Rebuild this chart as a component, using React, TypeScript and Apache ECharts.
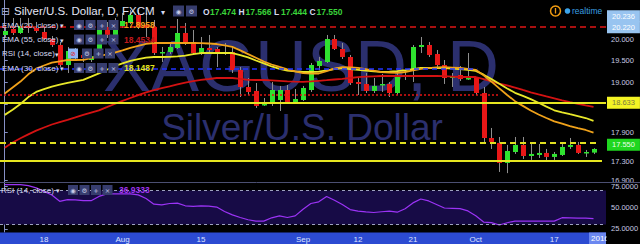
import React, { useEffect, useRef } from 'react';
import * as echarts from 'echarts';

// ---------------- data ----------------
const tickIdx = [5, 15, 25, 38, 45, 52, 60, 70];
const tickText = ['18', 'Aug', '15', 'Sep', '12', '21', 'Oct', '17'];
const priceTicks = [20.0, 19.5, 19.0, 18.5, 17.9, 17.3, 16.9];
const rsiTicks = [75, 50, 25];
const rsiBands = [70, 30];

const opens = [20.101, 20.245, 20.149, 20.317, 20.269, 20.172, 20.005, 19.863, 19.395, 19.721,
  19.628, 19.511, 19.628, 20.293, 20.101, 20.317, 20.390, 20.585, 20.341, 20.293,
  19.686, 19.698, 19.792, 20.149, 19.934, 19.674, 19.792, 19.769, 19.674, 19.698,
  19.280, 18.894, 18.805, 18.494, 18.516, 18.604, 18.827, 18.560, 18.604, 18.827,
  19.372, 19.465, 20.005, 19.769, 19.581, 19.007, 18.962, 18.805, 18.939, 18.962,
  18.759, 19.120, 19.280, 19.816, 19.863, 19.651, 19.395, 19.097, 19.166, 19.075,
  19.097, 18.759, 17.781, 17.676, 17.260, 17.487, 17.634, 17.404, 17.425, 17.467,
  17.384, 17.425, 17.592, 17.634, 17.477, 17.474];
const closes = [20.196, 20.149, 20.317, 20.269, 20.196, 20.005, 19.863, 19.395, 19.721, 19.628,
  19.558, 19.604, 20.293, 20.101, 20.293, 20.438, 20.585, 20.293, 20.269, 19.674,
  19.698, 19.816, 20.149, 19.910, 19.674, 19.792, 19.745, 19.674, 19.698, 19.280,
  18.894, 18.782, 18.472, 18.516, 18.827, 18.827, 18.560, 18.626, 18.872, 19.395,
  19.488, 20.005, 19.769, 19.581, 18.984, 18.962, 18.805, 18.917, 18.962, 18.759,
  19.120, 19.166, 19.816, 19.863, 19.628, 19.395, 19.097, 19.143, 19.075, 19.097,
  18.759, 17.781, 17.697, 17.260, 17.508, 17.634, 17.404, 17.446, 17.467, 17.384,
  17.446, 17.592, 17.634, 17.467, 17.487, 17.550];
const highs = [20.341, 20.512, 20.512, 20.512, 20.414, 20.269, 20.077, 19.934, 19.816, 19.792,
  19.745, 19.745, 20.341, 20.414, 20.512, 20.634, 20.708, 20.708, 20.634, 20.463,
  19.816, 19.910, 20.487, 20.390, 20.221, 20.053, 20.101, 19.816, 19.910, 19.816,
  19.349, 19.097, 18.984, 18.648, 19.007, 18.917, 18.939, 18.849, 18.917, 19.442,
  19.581, 20.101, 20.101, 19.910, 19.628, 19.120, 19.211, 19.097, 19.189, 19.007,
  19.234, 19.280, 19.863, 20.053, 19.934, 19.745, 19.511, 19.211, 19.372, 19.674,
  19.120, 18.894, 17.994, 17.802, 17.634, 17.802, 17.802, 17.676, 17.655, 17.550,
  17.487, 17.655, 17.781, 17.697, 17.529, 17.566];
const lows = [20.053, 20.101, 20.125, 20.149, 20.149, 19.981, 19.816, 19.349, 19.211, 19.511,
  19.465, 19.465, 19.581, 20.029, 20.029, 20.269, 20.366, 20.245, 20.053, 19.628,
  19.465, 19.651, 19.769, 19.863, 19.628, 19.628, 19.674, 19.349, 19.628, 19.211,
  18.670, 18.715, 18.428, 18.472, 18.472, 18.362, 18.516, 18.516, 18.582, 18.782,
  19.280, 19.442, 19.745, 19.534, 18.939, 18.715, 18.759, 18.759, 18.782, 18.670,
  18.715, 19.052, 19.007, 19.674, 19.581, 19.349, 18.962, 18.894, 19.029, 19.052,
  18.715, 17.697, 17.550, 17.076, 17.052, 17.446, 17.343, 17.322, 17.363, 17.281,
  17.322, 17.404, 17.550, 17.446, 17.384, 17.444];

const ema20 = [18.750, 18.883, 19.016, 19.182, 19.310, 19.384, 19.449, 19.481, 19.511, 19.511,
  19.513, 19.556, 19.599, 19.642, 19.684, 19.738, 19.797, 19.844, 19.888, 19.910,
  19.910, 19.910, 19.910, 19.910, 19.910, 19.908, 19.898, 19.886, 19.853, 19.818,
  19.735, 19.649, 19.563, 19.477, 19.407, 19.351, 19.296, 19.246, 19.207, 19.198,
  19.200, 19.255, 19.310, 19.347, 19.338, 19.328, 19.298, 19.264, 19.232, 19.223,
  19.213, 19.234, 19.271, 19.305, 19.324, 19.340, 19.344, 19.335, 19.326, 19.305,
  19.285, 19.157, 19.014, 18.863, 18.715, 18.578, 18.474, 18.371, 18.286, 18.209,
  18.136, 18.087, 18.034, 17.992, 17.951, 17.8958];
const ema30 = [18.277, 18.388, 18.516, 18.668, 18.784, 18.847, 18.903, 18.946, 18.986, 19.021,
  19.054, 19.127, 19.202, 19.285, 19.370, 19.435, 19.493, 19.532, 19.565, 19.581,
  19.581, 19.585, 19.597, 19.614, 19.646, 19.674, 19.674, 19.674, 19.674, 19.674,
  19.626, 19.572, 19.500, 19.433, 19.361, 19.305, 19.268, 19.248, 19.234, 19.234,
  19.241, 19.273, 19.303, 19.321, 19.303, 19.285, 19.266, 19.248, 19.236, 19.245,
  19.255, 19.275, 19.301, 19.326, 19.326, 19.326, 19.321, 19.312, 19.303, 19.282,
  19.259, 19.173, 19.072, 18.966, 18.860, 18.764, 18.695, 18.624, 18.542, 18.457,
  18.377, 18.334, 18.292, 18.251, 18.209, 18.1487];
const ema55 = [17.575, 17.684, 17.775, 17.858, 17.936, 18.004, 18.069, 18.121, 18.170, 18.222,
  18.277, 18.327, 18.377, 18.446, 18.516, 18.584, 18.648, 18.710, 18.773, 18.825,
  18.868, 18.908, 18.953, 18.993, 19.025, 19.054, 19.075, 19.097, 19.097, 19.097,
  19.077, 19.056, 19.052, 19.052, 19.045, 19.034, 19.022, 19.013, 19.011, 19.020,
  19.034, 19.047, 19.063, 19.079, 19.097, 19.115, 19.127, 19.136, 19.143, 19.143,
  19.143, 19.143, 19.143, 19.143, 19.143, 19.143, 19.138, 19.129, 19.120, 19.120,
  19.120, 19.072, 19.018, 18.971, 18.928, 18.881, 18.827, 18.775, 18.728, 18.683,
  18.641, 18.597, 18.556, 18.518, 18.485, 18.4534];
const rsi14 = [77, 77, 77, 75.8, 73.1, 69.0, 64.6, 57.3, 59.3, 59.0,
  58, 58, 63, 66, 66, 66, 66, 64.8, 60.5, 53.9,
  53, 54.7, 55.1, 52.0, 51.3, 51.8, 51.6, 50.5, 45.3, 41.3,
  38.3, 35.6, 34, 34, 37.9, 40.2, 38.2, 40.2, 48, 54.7,
  56.7, 63, 58.5, 53.5, 47.6, 45.8, 44.8, 44.1, 45.0, 45.8,
  44.5, 48.5, 55.4, 60, 57.7, 53.6, 49.4, 49, 48.6, 46.0,
  40.3, 32.9, 32.2, 29.4, 32.1, 34, 34, 34, 34, 34,
  34, 38, 37.8, 37.6, 37.6, 36.9333];

// drawn horizontal levels (price, last bar index reached)
const resistanceLevel = 20.22;
const recentHighLevel = 20.236;
const trendLevel = 19.3;
const trendEndIdx = 60.2;
const dottedLevel = 18.72;
const dottedEndIdx = 63.1;
const supportLevel1 = 18.633;
const dashedSupport = 17.68;
const dashedEndIdx = 75.83;
const supportLevel2 = 17.3;
const support2EndIdx = 76.08;

// ---------------- chart ----------------
const FONT = 'Liberation Sans';
const SYM = 'DejaVu Sans';
const L = Math.log;
const X_MIN = -0.605;
const X_MAX = 76.592;
const P_MIN = 16.873;
const P_MAX = 20.956;
const UP = '#2fe22f';
const DOWN = '#e81717';
const AXIS_C = '#8690c6';
const LABEL_C = '#c6cae0';
const HIDDEN = 'rgba(0,0,0,0)';

function txt(x: number, y: number, text: string, fill: string, size: number, opts: any = {}) {
  return {
    type: 'text', x, y, z: opts.z ?? 20, silent: true,
    style: {
      text, fill, fontSize: size, fontFamily: opts.family || FONT,
      fontWeight: opts.weight || 'normal', align: opts.align || 'left', verticalAlign: 'middle',
    },
  };
}
function btn(x: number, y: number, glyph: string, bg = '#373d6e', fg = '#c6cae8', size = 10) {
  return [
    { type: 'rect', z: 20, silent: true, shape: { x, y: y - size / 2, width: size, height: size }, style: { fill: bg } },
    txt(x + size / 2, y + 0.5, glyph, fg, 6.5, { family: SYM, align: 'center', z: 21 }),
  ];
}

function buildGraphic() {
  const g: any[] = [];
  // watermark
  g.push(txt(301, 66, 'XAGUSD, D', '#2b2f6e', 72, { z: 0, align: 'center' }));
  g.push(txt(302, 127, 'Silver/U.S. Dollar', '#2b2f6e', 37, { z: 0, align: 'center' }));
  // title row
  const lc = '#d6d9f0';
  g.push(txt(1, 11, '⊟', '#aab0d8', 11, { family: SYM }));
  g.push(txt(14, 11, 'Silver/U.S. Dollar, D, FXCM', '#e4e6f6', 11.5));
  g.push(txt(161, 12, '▾', lc, 8, { family: SYM }));
  g.push(...btn(173, 11, '◉', '#373d6e', '#c6cae8', 11));
  g.push(...btn(186, 11, '⚙', '#373d6e', '#c6cae8', 11));
  const last = opens.length - 1;
  const ohlc = [['O', opens[last]], ['H', highs[last]], ['L', lows[last]], ['C', closes[last]]];
  let ox = 203;
  ohlc.forEach(([k, v]: any) => {
    g.push(txt(ox, 11.5, k, lc, 8.5, { weight: 'bold' }));
    g.push(txt(ox + 7, 11.5, v.toFixed(3), '#3ad43a', 8.5, { weight: 'bold' }));
    ox += 35.5;
  });
  // indicator rows
  const rows = [
    { y: 25, name: 'EMA (20, close)', val: ema20[last].toFixed(4), color: '#f0a31c' },
    { y: 39.5, name: 'EMA (55, close)', val: ema55[last].toFixed(4), color: '#c0181c' },
    { y: 53.5, name: 'RSI (14, close)', val: '', color: '' },
    { y: 68, name: 'EMA (30, close)', val: ema30[last].toFixed(4), color: '#e3e31f' },
  ];
  rows.forEach((r, k) => {
    g.push(txt(2, r.y, r.name, lc, 8));
    if (k === 2) {
      g.push(txt(55, r.y + 1, '▾', lc, 7, { family: SYM }));
      g.push(...btn(68, r.y, '⊘', '#8cb4f5', '#e02020'));
      g.push(...btn(82, r.y, '⚙'));
      g.push(...btn(93.5, r.y, '+'));
      g.push(...btn(105, r.y, '×'));
    } else {
      g.push(txt(60, r.y + 1, '▾', lc, 7, { family: SYM }));
      g.push(...btn(74, r.y, '◉'));
      g.push(...btn(85.5, r.y, '⚙'));
      g.push(...btn(97, r.y, '+'));
      g.push(...btn(108.5, r.y, '×'));
      g.push(txt(124, r.y, r.val, r.color, 8.5, { weight: 'bold' }));
    }
  });
  // realtime
  g.push({ type: 'circle', z: 20, silent: true, shape: { cx: 555.5, cy: 11, r: 5 }, style: { fill: 'none', stroke: '#f09a10', lineWidth: 1.5 } });
  g.push({ type: 'line', z: 20, silent: true, shape: { x1: 555.5, y1: 8, x2: 555.5, y2: 13.5 }, style: { stroke: '#f09a10', lineWidth: 1.3 } });
  g.push({ type: 'circle', z: 20, silent: true, shape: { cx: 567.5, cy: 11, r: 2.8 }, style: { fill: '#3ba4ea' } });
  g.push(txt(572, 11, 'realtime', '#3a9fe0', 8.5));
  // pane separator
  g.push({ type: 'line', z: 20, silent: true, shape: { x1: 0, y1: 182.5, x2: 640, y2: 182.5 }, style: { stroke: '#4b4f72', lineWidth: 1 } });
  // RSI legend
  g.push(txt(1, 190, 'RSI (14, close)', lc, 8));
  g.push(txt(56, 191, '▾', lc, 7, { family: SYM }));
  g.push(...btn(68, 190, '◉'));
  g.push(...btn(79.5, 190, '⚙'));
  g.push(...btn(91, 190, '+'));
  g.push(...btn(102.5, 190, '×'));
  g.push(txt(119, 190, rsi14[last].toFixed(4), '#a035f0', 8.5, { weight: 'bold' }));
  // time band
  g.push({ type: 'rect', z: 1, silent: true, shape: { x: 0, y: 232.5, width: 606, height: 12 }, style: { fill: '#2c4bd2' } });
  g.push({ type: 'rect', z: 20, silent: true, shape: { x: 589, y: 232.5, width: 17, height: 12 }, style: { fill: '#6b87f0' } });
  g.push(txt(591, 238.5, '2016', '#ffffff', 8, { z: 21 }));
  g.push({ type: 'rect', z: 22, silent: true, shape: { x: 606.5, y: 233, width: 34, height: 12 }, style: { fill: '#000000' } });
  return g;
}

function levelLine(p: number, endIdx: number | null, style: any, label?: any) {
  const lbl = label
    ? { show: true, position: 'end', distance: 1, fontSize: 7.5, fontFamily: FONT, padding: [2, 5, 2, 5], opacity: 1, ...label }
    : { show: false };
  if (endIdx == null) return { yAxis: L(p), lineStyle: style, label: lbl };
  return [{ coord: [X_MIN, L(p)], lineStyle: style, label: lbl }, { coord: [endIdx, L(p)] }];
}

export default function App() {
  const ref = useRef<HTMLDivElement>(null);
  useEffect(() => {
    const chart = echarts.init(ref.current!, null, { renderer: 'svg' });
    const candleData = opens.map((o, i) => [i, L(o), L(closes[i]), L(lows[i]), L(highs[i])]);
    const emaSeries = (arr: number[], color: string, extra: any = {}) => ({
      type: 'line', xAxisIndex: 0, yAxisIndex: 0, data: arr.map((v, i) => [i, L(v)]),
      showSymbol: false, z: 3, lineStyle: { color, width: 1.8 }, itemStyle: { color }, silent: true, ...extra,
    });
    const priceBoxFmt = (p: number) => () => p.toFixed(3);
    const option: any = {
      animation: false,
      backgroundColor: '#000000',
      grid: [
        { left: 0, top: 0, width: 606, height: 182, outerBoundsMode: 'none', containLabel: false },
        { left: 0, top: 183, width: 606, height: 49, outerBoundsMode: 'none', containLabel: false },
      ],
      xAxis: [
        { type: 'value', gridIndex: 0, min: X_MIN, max: X_MAX, show: false, splitLine: { show: false } },
        {
          type: 'value', gridIndex: 1, min: X_MIN, max: X_MAX, z: 6,
          axisLine: { show: false }, axisTick: { show: false }, splitLine: { show: false },
          axisLabel: {
            customValues: tickIdx,
            formatter: (v: number) => tickText[tickIdx.indexOf(Math.round(v))] ?? '',
            color: '#dfe4ff', fontSize: 8, fontFamily: FONT, margin: 3,
          },
        },
      ],
      yAxis: [
        {
          type: 'value', gridIndex: 0, position: 'right', min: L(P_MIN), max: L(P_MAX), splitLine: { show: false },
          axisLine: { show: true, lineStyle: { color: AXIS_C, width: 1 } },
          axisTick: { show: true, length: 3, customValues: priceTicks.map(L), lineStyle: { color: AXIS_C } },
          axisLabel: {
            customValues: priceTicks.map(L), formatter: (v: number) => Math.exp(v).toFixed(3),
            color: LABEL_C, fontSize: 7.5, fontFamily: FONT, margin: 5,
          },
        },
        {
          type: 'value', gridIndex: 1, position: 'right', min: 21.2, max: 78.8, splitLine: { show: false },
          axisLine: { show: true, lineStyle: { color: AXIS_C, width: 1 } },
          axisTick: { show: true, length: 3, customValues: rsiTicks, lineStyle: { color: AXIS_C } },
          axisLabel: {
            customValues: rsiTicks, formatter: (v: number) => v.toFixed(4),
            color: LABEL_C, fontSize: 7.5, fontFamily: FONT, margin: 5,
          },
        },
      ],
      series: [
        {
          type: 'custom', xAxisIndex: 0, yAxisIndex: 0, data: candleData, z: 2, silent: true,
          encode: { x: 0, y: [1, 2, 3, 4] },
          renderItem: (params: any, api: any) => {
            const i = api.value(0);
            const o = api.value(1), c = api.value(2), lo = api.value(3), hi = api.value(4);
            const pO = api.coord([i, o]);
            const pC = api.coord([i, c]);
            const pL = api.coord([i, lo]);
            const pH = api.coord([i, hi]);
            const w = 5;
            const cx = Math.round(pO[0]) + 0.5;
            const top = Math.min(pO[1], pC[1]);
            const h = Math.max(1.5, Math.abs(pO[1] - pC[1]));
            return {
              type: 'group',
              children: [
                { type: 'line', shape: { x1: cx, y1: pH[1], x2: cx, y2: pL[1] }, style: { stroke: '#8f8f8f', lineWidth: 1 } },
                { type: 'rect', shape: { x: cx - w / 2, y: top, width: w, height: h }, style: { fill: c >= o ? UP : DOWN } },
              ],
            };
          },
        },
        emaSeries(ema55, '#d31212'),
        emaSeries(ema30, '#e8e82a'),
        emaSeries(ema20, '#f0a21a', {
          clip: false,
          markLine: {
            silent: true, symbol: ['none', 'none'], z: 4, label: { show: false },
            data: [
              levelLine(resistanceLevel, null, { color: '#e01414', type: [6, 4], width: 1.6 },
                { formatter: priceBoxFmt(resistanceLevel), color: '#ffffff', backgroundColor: '#98c4f0' }),
              levelLine(recentHighLevel, null, { color: HIDDEN, width: 0 },
                { formatter: priceBoxFmt(recentHighLevel), color: '#ffffff', backgroundColor: '#98c4f0', offset: [0, -11] }),
              levelLine(trendLevel, trendEndIdx, { color: '#2233ff', type: [5, 4], width: 1.6 }),
              levelLine(dottedLevel, dottedEndIdx, { color: '#e01414', type: [2, 2], width: 1.6 }),
              levelLine(supportLevel1, null, { color: '#e6e620', type: 'solid', width: 2 },
                { formatter: priceBoxFmt(supportLevel1), color: '#7a7a40', backgroundColor: '#f4f424' }),
              levelLine(dashedSupport, dashedEndIdx, { color: '#e0e020', type: [6, 4], width: 2 }),
              levelLine(supportLevel2, support2EndIdx, { color: '#e6e620', type: 'solid', width: 2 }),
              levelLine(closes[closes.length - 1], null, { color: HIDDEN, width: 0 },
                { formatter: priceBoxFmt(closes[closes.length - 1]), color: '#e6ffe6', backgroundColor: '#1fd61f' }),
            ],
          },
        }),
        {
          type: 'line', xAxisIndex: 1, yAxisIndex: 1, data: rsi14.map((v, i) => [i, v]), z: 1, silent: true,
          showSymbol: false, lineStyle: { color: HIDDEN },
          markArea: { silent: true, itemStyle: { color: '#170b46' }, data: [[{ yAxis: rsiBands[0] }, { yAxis: rsiBands[1] }]] },
          markLine: {
            silent: true, symbol: ['none', 'none'], label: { show: false },
            lineStyle: { color: '#9ea2c2', type: [3, 3], width: 1 },
            data: rsiBands.map((b) => ({ yAxis: b })),
          },
        },
        {
          type: 'line', xAxisIndex: 1, yAxisIndex: 1, data: rsi14.map((v, i) => [i, v]), z: 3, silent: true,
          showSymbol: false, lineStyle: { color: '#9b33f5', width: 1.2 }, itemStyle: { color: '#9b33f5' },
        },
      ],
      graphic: buildGraphic(),
    };
    chart.setOption(option);
    return () => chart.dispose();
  }, []);
  return <div ref={ref} style={{ position: 'fixed', left: 0, top: 0, width: 640, height: 244, background: '#000' }} />;
}
